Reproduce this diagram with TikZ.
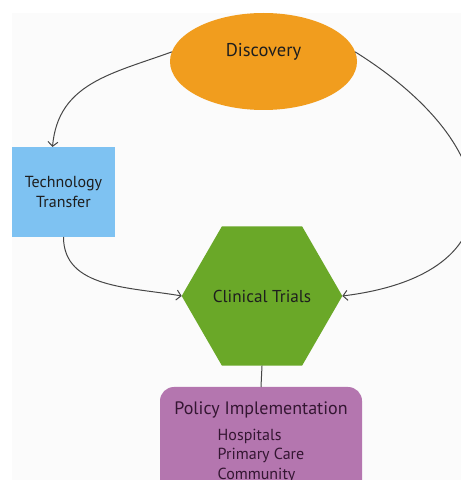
\documentclass[tikz,border=0pt]{standalone}
\usepackage{fontspec}
\setmainfont{PT Sans}
\usepackage{xcolor}
\usepackage{tikz}
\usetikzlibrary{shapes.geometric, arrows.meta, positioning}
\definecolor{PipePaper}{RGB}{251, 251, 251}
\definecolor{PipeOrange}{RGB}{241, 157, 30}
\definecolor{PipeBlue}{RGB}{126, 194, 242}
\definecolor{PipeGreen}{RGB}{106, 168, 40}
\definecolor{PipePlum}{RGB}{180, 118, 175}
\definecolor{PipeInk}{RGB}{30, 30, 30}
\definecolor{PipePlumInk}{RGB}{52, 22, 50}
\definecolor{PipeArrow}{RGB}{70, 70, 70}

\begin{document}
\begin{tikzpicture}[x=1pt,y=1pt,
    stage/.style={inner sep=0pt, outer sep=0pt, text=PipeInk},
    flow/.style={PipeArrow, line width=1pt, -{Straight Barb[length=4.5pt, width=10pt]}}]
  \path[use as bounding box] (0,0) rectangle (461,480);
  \clip (0,0) rectangle (461,480);

  % Page with a faint grey sheet
  \fill[white] (0,0) rectangle (461,480);
  \fill[PipePaper] (12,0) rectangle (461,467);

  % Stages
  \node[stage, ellipse, fill=PipeOrange, minimum width=187pt, minimum height=97pt,
    label={[yshift=10pt, text=PipeInk, font=\fontsize{18.5}{22}\selectfont]center:Discovery}]
    (disc) at (263.5,418.5) {};
  \node[stage, rectangle, fill=PipeBlue, minimum width=103pt, minimum height=90pt,
    align=center, font=\fontsize{16}{19.5}\selectfont] (tech) at (63.5,288) {Technology\\Transfer};
  \node[stage, regular polygon, regular polygon sides=6, fill=PipeGreen, minimum size=154pt,
    font=\fontsize{17.2}{20}\selectfont] (trials) at (262,184) {Clinical Trials};
  \node[stage, rectangle, rounded corners=14pt, fill=PipePlum, text=PipePlumInk, anchor=north,
    minimum width=202pt, inner ysep=15pt, align=center, font=\fontsize{16}{19.5}\selectfont]
    (policy) at (261,93) {%
      {\fontsize{18}{20}\selectfont Policy Implementation}\\[6pt]
      \begin{tabular}[t]{@{}l@{}}Hospitals\\Primary Care\\Community\end{tabular}};

  % Connectors
  \draw[flow] (disc.174) to[out=200, in=85, distance=64pt] ([xshift=-11pt]tech.north);
  \draw[flow] (disc.6) to[out=-32, in=7, distance=180pt] (trials.east);
  \draw[flow] (tech.south) to[out=-90, in=170] (trials.west);
  \draw[PipeArrow, line width=1pt] (trials.south) -- (policy.north);
\end{tikzpicture}
\end{document}
